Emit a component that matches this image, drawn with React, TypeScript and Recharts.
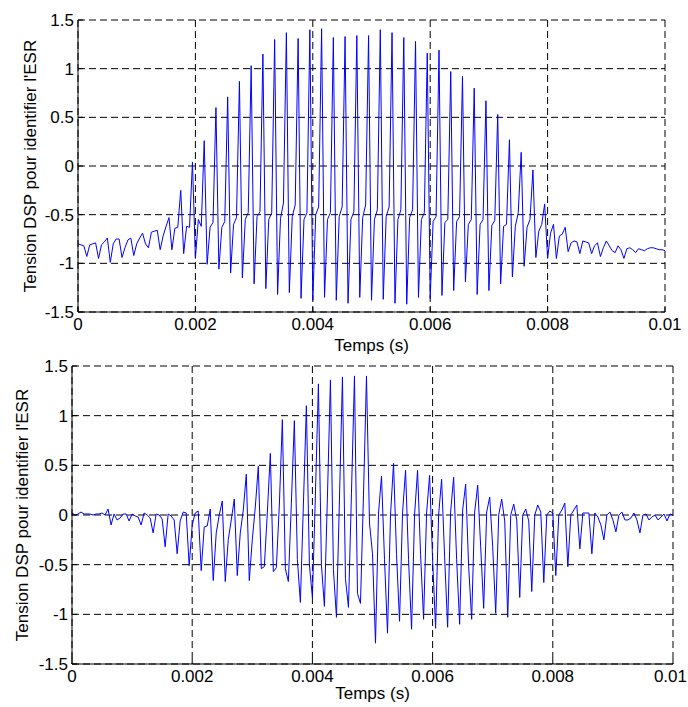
import { LineChart, Line, XAxis, YAxis, CartesianGrid, Label } from 'recharts'

// sampling step of the DSP capture (s)
const SAMPLE_STEP = 0.00005

const X_TICKS = [0, 0.002, 0.004, 0.006, 0.008, 0.01]
const X_TICK_LABELS = ['0', '0.002', '0.004', '0.006', '0.008', '0.01']
const Y_TICKS = [-1.5, -1, -0.5, 0, 0.5, 1, 1.5]
const Y_TICK_LABELS = ['-1.5', '-1', '-0.5', '0', '0.5', '1', '1.5']

const X_TITLE = 'Temps (s)'
const Y_TITLE = "Tension DSP pour identifier l'ESR"

// upper panel, one value per sample
const topSignal = [
  -0.80, -0.81, -0.82, -0.93, -0.81, -0.80, -0.79, -0.95,
  -0.81, -0.78, -0.74, -0.99, -0.80, -0.75, -0.75, -0.94,
  -0.84, -0.76, -0.74, -0.92, -0.80, -0.74, -0.69, -0.80,
  -0.84, -0.68, -0.67, -0.66, -0.86, -0.72, -0.62, -0.53,
  -0.86, -0.64, -0.63, -0.25, -0.90, -0.62, -0.63, 0.04,
  -0.95, -0.55, -0.62, 0.26, -1.01, -0.63, -0.58, 0.60,
  -1.06, -0.63, -0.57, 0.71, -1.10, -0.60, -0.53, 0.87,
  -1.15, -0.55, -0.48, 1.03, -1.21, -0.52, -0.47, 1.15,
  -1.26, -0.55, -0.48, 1.30, -1.32, -0.54, -0.38, 1.37,
  -1.30, -0.52, -0.40, 1.31, -1.36, -0.55, -0.48, 1.40,
  -1.38, -0.50, -0.42, 1.41, -1.35, -0.55, -0.48, 1.32,
  -1.38, -0.52, -0.42, 1.33, -1.41, -0.55, -0.47, 1.34,
  -1.35, -0.53, -0.40, 1.34, -1.38, -0.55, -0.45, 1.40,
  -1.37, -0.52, -0.42, 1.37, -1.41, -0.55, -0.45, 1.32,
  -1.42, -0.53, -0.45, 1.28, -1.35, -0.55, -0.48, 1.16,
  -1.36, -0.57, -0.52, 1.19, -1.33, -0.58, -0.55, 0.97,
  -1.28, -0.57, -0.52, 0.92, -1.19, -0.60, -0.55, 0.80,
  -1.32, -0.60, -0.55, 0.67, -1.28, -0.61, -0.56, 0.53,
  -1.21, -0.62, -0.60, 0.27, -1.14, -0.62, -0.48, 0.14,
  -1.03, -0.63, -0.55, -0.04, -0.94, -0.67, -0.60, -0.39,
  -0.95, -0.69, -0.60, -0.95, -0.72, -0.70, -0.63, -0.88,
  -0.79, -0.77, -0.78, -0.90, -0.77, -0.78, -0.79, -0.90,
  -0.82, -0.79, -0.93, -0.84, -0.77, -0.82, -0.87, -0.89,
  -0.82, -0.86, -0.95, -0.85, -0.84, -0.86, -0.89, -0.85,
  -0.86, -0.87, -0.85, -0.84, -0.84, -0.85, -0.86, -0.86,
  -0.87,
]

// lower panel
const bottomSignal = [
  0.02, 0.00, 0.01, 0.03, 0.01, 0.01, 0.01, 0.00,
  0.01, 0.01, 0.02, 0.00, 0.06, -0.10, 0.01, -0.05,
  -0.03, 0.01, 0.01, -0.06, 0.01, -0.01, -0.02, -0.10,
  0.02, 0.00, -0.03, -0.18, 0.01, 0.00, -0.04, -0.32,
  0.01, -0.01, -0.05, -0.39, -0.06, 0.03, 0.02, -0.51,
  -0.10, 0.02, 0.04, -0.56, -0.12, -0.11, 0.06, -0.66,
  -0.18, 0.00, 0.14, -0.67, -0.25, -0.05, 0.16, -0.61,
  -0.18, 0.05, 0.41, -0.66, -0.25, 0.08, 0.49, -0.54,
  -0.52, 0.02, 0.62, -0.57, -0.53, 0.10, 0.96, -0.54,
  -0.67, 0.12, 0.95, -0.45, -0.88, 0.10, 1.10, -0.50,
  -0.83, 0.20, 1.32, -0.50, -0.92, 0.18, 1.36, -0.55,
  -1.03, 0.15, 1.39, -0.64, -0.93, 0.22, 1.40, -0.79,
  -0.89, 0.20, 1.40, -0.08, -0.39, -1.29, 0.02, 0.39,
  -0.45, -1.19, 0.00, 0.52, -0.40, -1.07, 0.02, 0.45,
  -0.45, -1.15, 0.00, 0.45, -0.40, -1.05, 0.02, 0.40,
  -0.45, -1.14, 0.00, 0.36, -0.42, -1.13, 0.03, 0.38,
  -0.45, -1.10, 0.05, 0.31, -0.52, -1.05, 0.03, 0.30,
  -0.32, -0.94, 0.03, 0.18, -0.32, -0.99, 0.00, 0.16,
  -0.06, -1.03, 0.00, 0.11, -0.05, -0.83, 0.00, 0.06,
  -0.06, -0.77, 0.00, 0.10, 0.03, -0.68, 0.00, 0.04,
  0.02, -0.61, 0.00, 0.05, 0.12, -0.52, 0.00, 0.05,
  0.10, -0.34, 0.02, 0.02, 0.02, -0.39, 0.02, -0.02,
  -0.10, -0.25, 0.00, 0.03, -0.05, -0.17, 0.00, 0.03,
  -0.05, -0.05, -0.03, 0.02, -0.05, -0.18, 0.00, 0.01,
  -0.05, -0.02, 0.00, -0.05, -0.02, 0.01, -0.06, 0.01,
  0.00,
]

const FONT = "'Liberation Sans', Arial, sans-serif"
const FONT_SIZE = 17
const CHART_W = 688
const tickStyle = { fill: '#000', fontSize: FONT_SIZE, fontFamily: FONT }

const fmtY = (v: number) => Y_TICK_LABELS[Y_TICKS.indexOf(v)] ?? String(v)

// x tick label, kept inside the picture at the right edge
function XTick({ x, y, payload }: any) {
  const text = X_TICK_LABELS[X_TICKS.indexOf(payload.value)] ?? String(payload.value)
  const half = (text.length * FONT_SIZE * 0.5) / 2
  const overflow = x + half > CHART_W - 1
  return (
    <text
      x={overflow ? CHART_W - 1 : x}
      y={y}
      dy="0.71em"
      textAnchor={overflow ? 'end' : 'middle'}
      fill="#000"
      fontSize={FONT_SIZE}
      fontFamily={FONT}
    >
      {text}
    </text>
  )
}

function YTitle({ viewBox, dx }: any) {
  const cx = viewBox.x + dx
  const cy = viewBox.y + viewBox.height / 2
  return (
    <text
      x={cx}
      y={cy}
      transform={`rotate(-90, ${cx}, ${cy})`}
      textAnchor="middle"
      dominantBaseline="central"
      fontFamily={FONT}
      fontSize={FONT_SIZE}
      fill="#000"
    >
      {Y_TITLE}
    </text>
  )
}

function XTitle({ viewBox, dy }: any) {
  return (
    <text
      x={viewBox.x + viewBox.width / 2}
      y={viewBox.y + dy}
      textAnchor="middle"
      dominantBaseline="central"
      fontFamily={FONT}
      fontSize={FONT_SIZE}
      fill="#000"
    >
      {X_TITLE}
    </text>
  )
}

function Panel({ values, height, margin, yTitleDx, xTitleDy }: any) {
  const rows = values.map((v: number, i: number) => ({ t: i * SAMPLE_STEP, v }))
  return (
    <LineChart width={CHART_W} height={height} data={rows} margin={margin}>
      <CartesianGrid stroke="#000" strokeDasharray="7 4" />
      <XAxis
        dataKey="t"
        type="number"
        domain={[0, 0.01]}
        ticks={X_TICKS}
        height={43}
        tick={<XTick />}
        tickSize={-5}
        tickMargin={11}
        tickLine={{ stroke: '#000' }}
        axisLine={{ stroke: '#000' }}
        interval={0}
      >
        <Label content={(p: any) => <XTitle {...p} dy={xTitleDy} />} />
      </XAxis>
      <XAxis
        xAxisId="top"
        orientation="top"
        dataKey="t"
        type="number"
        domain={[0, 0.01]}
        ticks={X_TICKS}
        height={0}
        tick={false}
        tickSize={-5}
        tickLine={{ stroke: '#000' }}
        axisLine={{ stroke: '#000' }}
      />
      <YAxis
        type="number"
        domain={[-1.5, 1.5]}
        ticks={Y_TICKS}
        tickFormatter={fmtY}
        width={50}
        tick={tickStyle}
        tickSize={-5}
        tickMargin={9}
        tickLine={{ stroke: '#000' }}
        axisLine={{ stroke: '#000' }}
        interval={0}
      >
        <Label content={(p: any) => <YTitle {...p} dx={yTitleDx} />} />
      </YAxis>
      <YAxis
        yAxisId="right"
        orientation="right"
        type="number"
        domain={[-1.5, 1.5]}
        ticks={Y_TICKS}
        width={0}
        tick={false}
        tickSize={-5}
        tickLine={{ stroke: '#000' }}
        axisLine={{ stroke: '#000' }}
      />
      <Line
        type="linear"
        dataKey="v"
        stroke="#0000ff"
        strokeWidth={1}
        dot={false}
        isAnimationActive={false}
      />
    </LineChart>
  )
}

export default function App() {
  return (
    <div style={{ position: 'absolute', left: 0, top: 0, width: CHART_W, height: 707, background: '#fff' }}>
      <Panel
        values={topSignal}
        height={355}
        margin={{ top: 20, right: 23, bottom: 0, left: 28 }}
        yTitleDx={2}
        xTitleDy={33}
      />
      <Panel
        values={bottomSignal}
        height={352}
        margin={{ top: 11, right: 15, bottom: 0, left: 22 }}
        yTitleDx={0}
        xTitleDy={29}
      />
    </div>
  )
}
